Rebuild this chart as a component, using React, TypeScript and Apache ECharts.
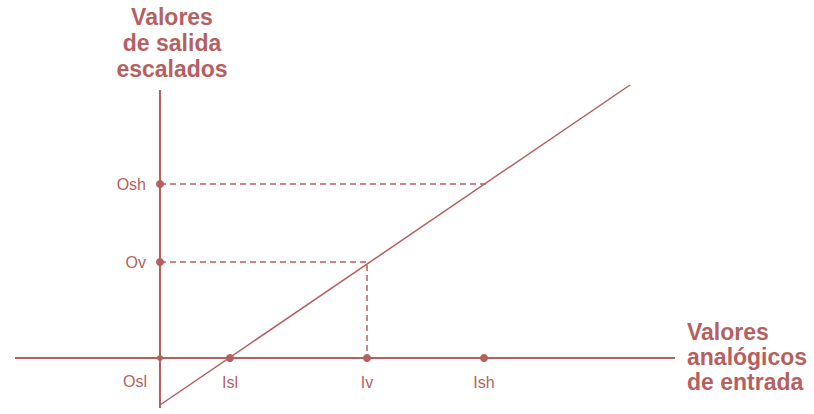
import React, { useEffect, useRef } from "react";
import * as echarts from "echarts";

const COLOR = "#b65f5f";

// Diagram "values" (arbitrary units)
const inputTicks = ["Isl", "Iv", "Ish"];
const inputValues = [70, 207, 324];
const outputTicks = ["Osh", "Ov"];
const outputValues = [174, 96];
const originLabel = "Osl";
const transferLine = [
  [0, -47],
  [470, 273],
];
const xRange = [-145, 515];
const yRange = [-50, 268];
const yTitle = "Valores\nde salida\nescalados";
const xTitle = "Valores\nanalógicos\nde entrada";

export default function App() {
  const ref = useRef<HTMLDivElement>(null);
  useEffect(() => {
    if (!ref.current) return;
    const chart = echarts.init(ref.current, null, { renderer: "svg" });
    const ivIdx = 1;
    const ovIdx = 1;
    const shIdx = 0;
    const labelFont = {
      color: COLOR,
      fontFamily: "Liberation Sans",
      fontSize: 16,
    };
    chart.setOption({
      animation: false,
      backgroundColor: "#ffffff",
      grid: { left: 15, right: 139, top: 85, bottom: 6 },
      xAxis: { type: "value", min: xRange[0], max: xRange[1], show: false },
      yAxis: { type: "value", min: yRange[0], max: 273, show: false },
      graphic: [
        {
          type: "text",
          x: 172,
          y: 4,
          style: {
            text: yTitle,
            fill: COLOR,
            font: "bold 23px 'Liberation Sans', Arial",
            lineHeight: 26,
            align: "center",
            verticalAlign: "top",
          },
        },
        {
          type: "text",
          x: 687,
          y: 319,
          style: {
            text: xTitle,
            fill: COLOR,
            font: "bold 23px 'Liberation Sans', Arial",
            lineHeight: 25,
            align: "left",
            verticalAlign: "top",
          },
        },
      ],
      series: [
        {
          type: "line",
          data: [
            [xRange[0], 0],
            [xRange[1], 0],
          ],
          symbol: "none",
          lineStyle: { color: COLOR, width: 2 },
        },
        {
          type: "line",
          data: [
            [0, yRange[0]],
            [0, yRange[1]],
          ],
          symbol: "none",
          lineStyle: { color: COLOR, width: 2 },
        },
        {
          type: "line",
          data: transferLine,
          symbol: "none",
          lineStyle: { color: COLOR, width: 1.5 },
        },
        {
          type: "line",
          data: [
            [0, outputValues[shIdx]],
            [inputValues[2] + 3, outputValues[shIdx]],
          ],
          symbol: "none",
          lineStyle: { color: COLOR, width: 1.5, type: [6, 4] },
        },
        {
          type: "line",
          data: [
            [0, outputValues[ovIdx]],
            [inputValues[ivIdx], outputValues[ovIdx]],
            [inputValues[ivIdx], 0],
          ],
          symbol: "none",
          lineStyle: { color: COLOR, width: 1.5, type: [6, 4] },
        },
        {
          type: "scatter",
          symbolSize: 8,
          itemStyle: { color: COLOR, opacity: 1 },
          data: outputValues.map((v, i) => ({ value: [0, v], name: outputTicks[i] })),
          label: {
            show: true,
            position: "left",
            distance: 10,
            formatter: (p: any) => p.name,
            ...labelFont,
          },
        },
        {
          type: "scatter",
          symbolSize: 8,
          itemStyle: { color: COLOR, opacity: 1 },
          data: inputValues.map((v, i) => ({ value: [v, 0], name: inputTicks[i] })),
          label: {
            show: true,
            position: "bottom",
            distance: 12,
            formatter: (p: any) => p.name,
            ...labelFont,
          },
        },
        {
          type: "scatter",
          symbolSize: 6,
          itemStyle: { color: COLOR, opacity: 1 },
          data: [{ value: [0, 0], name: originLabel }],
          label: {
            show: true,
            position: "bottom",
            distance: 12,
            offset: [-25, 0],
            formatter: (p: any) => p.name,
            ...labelFont,
          },
        },
      ],
    });
    return () => chart.dispose();
  }, []);
  return (
    <div
      ref={ref}
      style={{ position: "fixed", left: 0, top: 0, width: 814, height: 414, background: "#fff" }}
    />
  );
}
